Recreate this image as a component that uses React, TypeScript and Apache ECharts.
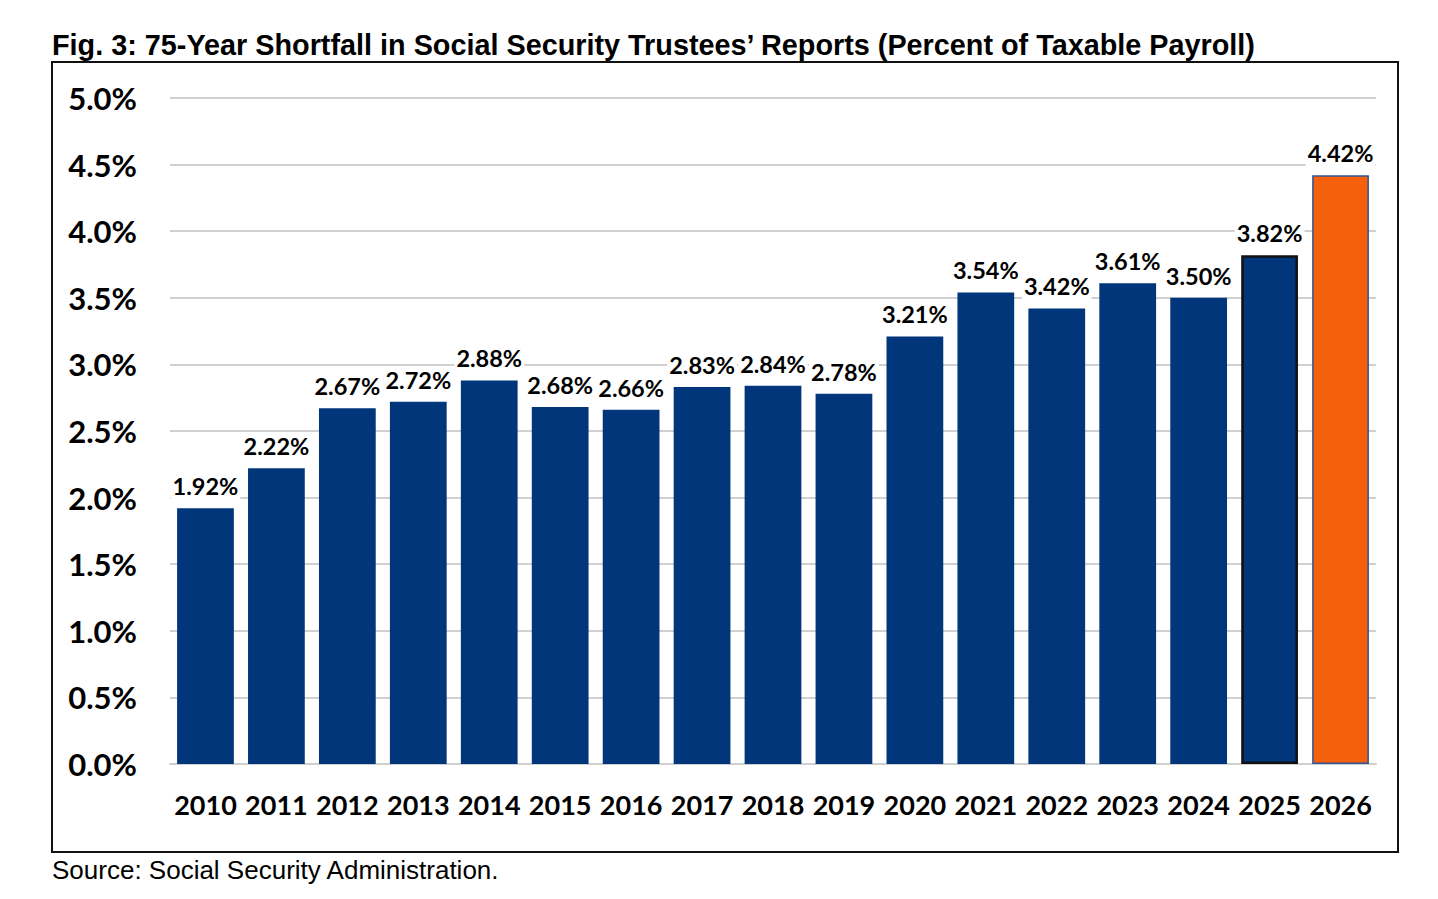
import React, { useEffect, useRef } from "react";
import * as echarts from "echarts";

const years = ["2010","2011","2012","2013","2014","2015","2016","2017","2018","2019","2020","2021","2022","2023","2024","2025","2026"];
const shortfall = [1.92,2.22,2.67,2.72,2.88,2.68,2.66,2.83,2.84,2.78,3.21,3.54,3.42,3.61,3.50,3.82,4.42];
const titleText = "Fig. 3: 75-Year Shortfall in Social Security Trustees\u2019 Reports (Percent of Taxable Payroll)";
const sourceText = "Source: Social Security Administration.";

const NAVY = "#02367A";
const ORANGE = "#F4600C";

export default function App() {
  const ref = useRef<HTMLDivElement>(null);
  useEffect(() => {
    if (!ref.current) return;
    const chart = echarts.init(ref.current, undefined, { renderer: "svg" });
    const data = shortfall.map((v, i) => {
      const last = i === shortfall.length - 1;
      const prev = i === shortfall.length - 2;
      return {
        value: v,
        itemStyle: {
          color: last ? ORANGE : NAVY,
          borderColor: last ? "#2F5597" : prev ? "#111111" : NAVY,
          borderWidth: last ? 1.5 : prev ? 2.5 : 0,
        },
      };
    });
    chart.setOption({
      animation: false,
      backgroundColor: "#ffffff",
      grid: { left: 170, right: 62, top: 98, bottom: 135, containLabel: false },
      graphic: [
        {
          type: "rect",
          shape: { x: 52, y: 62, width: 1346, height: 790 },
          style: { fill: "none", stroke: "#111111", lineWidth: 2 },
          z: 0,
        },
        {
          type: "text",
          x: 52,
          y: 45,
          style: {
            text: titleText,
            font: "bold 28.8px 'Liberation Sans', Arial, sans-serif",
            fill: "#000000",
            textVerticalAlign: "middle",
          },
        },
        {
          type: "text",
          x: 52,
          y: 870,
          style: {
            text: sourceText,
            font: "26px 'Liberation Sans', Arial, sans-serif",
            fill: "#000000",
            textVerticalAlign: "middle",
          },
        },
      ],
      xAxis: {
        type: "category",
        data: years,
        axisTick: { show: false },
        axisLine: { lineStyle: { color: "#cfcfcf", width: 2 } },
        axisLabel: {
          margin: 27,
          color: "#000000",
          fontFamily: "Lato",
          fontWeight: "bold",
          fontSize: 27,
          interval: 0,
        },
      },
      yAxis: {
        type: "value",
        min: 0,
        max: 5,
        interval: 0.5,
        axisLine: { show: false },
        axisTick: { show: false },
        splitLine: { lineStyle: { color: "#d0d0d0", width: 2 } },
        axisLabel: {
          margin: 33,
          color: "#000000",
          fontFamily: "Lato",
          fontWeight: "bold",
          fontSize: 31,
          formatter: (v: number) => v.toFixed(1) + "%",
        },
      },
      series: [
        {
          type: "bar",
          data,
          barCategoryGap: "20%",
          label: {
            show: true,
            position: "top",
            distance: 9,
            color: "#000000",
            fontFamily: "Lato",
            fontWeight: "bold",
            fontSize: 23.5,
            backgroundColor: "#ffffff",
            padding: [1, 2],
            formatter: (p: any) => p.value.toFixed(2) + "%",
          },
        },
      ],
    });
    return () => chart.dispose();
  }, []);
  return (
    <div
      ref={ref}
      style={{ position: "fixed", left: 0, top: 0, width: 1438, height: 899, background: "#fff" }}
    />
  );
}
